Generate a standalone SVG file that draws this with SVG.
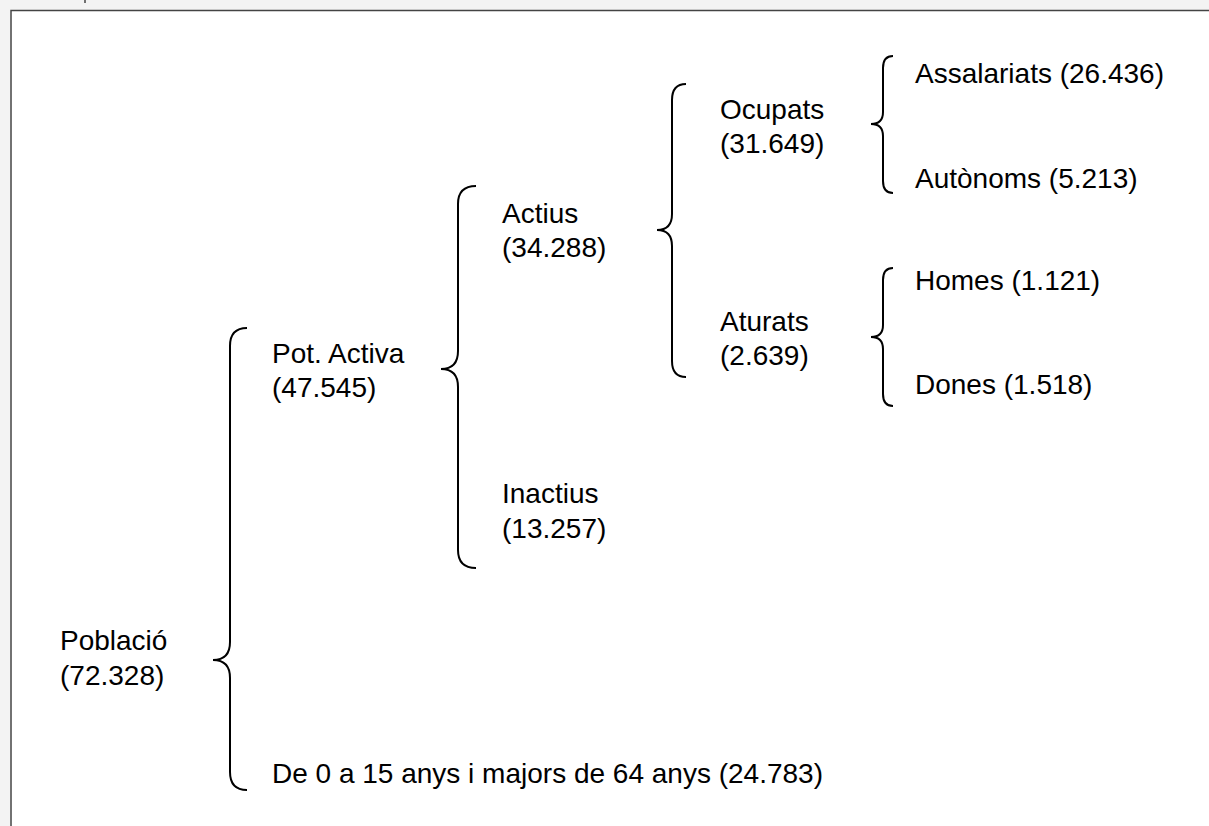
<svg xmlns="http://www.w3.org/2000/svg" width="1209" height="826" viewBox="0 0 1209 826">
<style>
text{font-family:"Liberation Sans",Arial,sans-serif;font-size:28px;fill:#000}
.br{fill:none;stroke:#000;stroke-width:2}
</style>
<rect x="0" y="0" width="1209" height="826" fill="#fff"/>
<rect x="0" y="0" width="1209" height="10" fill="#f3f3f3"/>
<rect x="0" y="0" width="10" height="826" fill="#f3f3f3"/>
<line x1="85" y1="0" x2="85" y2="3" stroke="#444" stroke-width="1.5"/>
<path d="M11,826 V10.5 H1209" fill="none" stroke="#444" stroke-width="1.5"/>
<g id="connectors">
<path class="br" d="M247,328 Q230,328 230,346 V642 Q230,660 213,660 Q230,660 230,678 V772 Q230,790 247,790"/>
<path class="br" d="M476,186 Q458,186 458,204 V351 Q458,369 441,369 Q458,369 458,387 V550 Q458,568 476,568"/>
<path class="br" d="M686,84 Q672,84 672,100 V214 Q672,230 657,230 Q672,230 672,246 V361 Q672,377 686,377"/>
<path class="br" d="M893,56 Q883,56 883,68 V112 Q883,124 871,124 Q883,124 883,136 V181 Q883,193 893,193"/>
<path class="br" d="M893,268 Q883,268 883,280 V325 Q883,337 871,337 Q883,337 883,349 V394 Q883,406 893,406"/>
</g>
<g id="poblacio"><text x="60" y="650">Població</text><text x="60" y="685">(72.328)</text></g>
<g id="pot-activa"><text x="272" y="363">Pot. Activa</text><text x="272" y="397">(47.545)</text></g>
<g id="menors-majors"><text x="272" y="783">De 0 a 15 anys i majors de 64 anys (24.783)</text></g>
<g id="actius"><text x="502" y="223">Actius</text><text x="502" y="257">(34.288)</text></g>
<g id="inactius"><text x="502" y="503">Inactius</text><text x="502" y="538">(13.257)</text></g>
<g id="ocupats"><text x="720" y="119">Ocupats</text><text x="720" y="153">(31.649)</text></g>
<g id="aturats"><text x="720" y="331">Aturats</text><text x="720" y="365">(2.639)</text></g>
<g id="assalariats"><text x="915" y="83">Assalariats (26.436)</text></g>
<g id="autonoms"><text x="915" y="188">Autònoms (5.213)</text></g>
<g id="homes"><text x="915" y="290">Homes (1.121)</text></g>
<g id="dones"><text x="915" y="394">Dones (1.518)</text></g>
</svg>
